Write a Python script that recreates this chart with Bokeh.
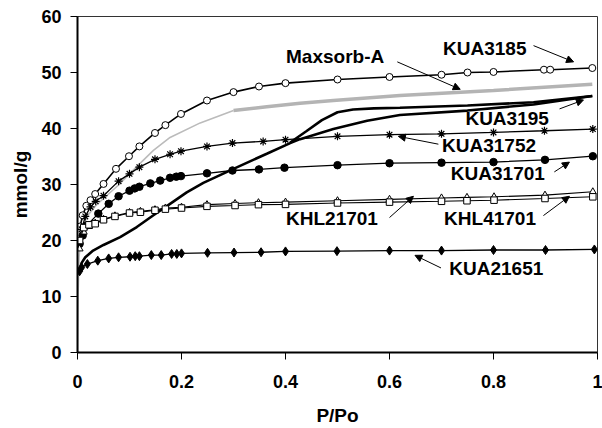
from bokeh.plotting import figure
from bokeh.models import Range1d, FixedTicker, Arrow, NormalHead, ColumnDataSource
from bokeh.core.properties import value
from bokeh.embed import file_html
from bokeh.resources import INLINE

# ---------------- data ----------------
kua3185_x = [0.005, 0.01, 0.017, 0.025, 0.034, 0.05, 0.074, 0.099, 0.119, 0.149, 0.169, 0.199,
             0.249, 0.3, 0.349, 0.4, 0.5, 0.6, 0.7, 0.75, 0.8, 0.897, 0.909, 0.99]
kua3185_y = [22.5, 24.5, 26.2, 27.2, 28.3, 30.1, 32.8, 35.05, 36.8, 39.2, 40.6, 42.6,
             45.0, 46.5, 47.5, 48.1, 48.75, 49.2, 49.6, 50.0, 50.1, 50.5, 50.5, 50.8]

maxsorb_x1 = [0.0, 0.001, 0.003, 0.006, 0.01, 0.02, 0.035, 0.05, 0.08, 0.114, 0.146, 0.178, 0.236, 0.3]
maxsorb_y1 = [0.0, 10.0, 17.0, 20.5, 22.5, 24.5, 26.2, 27.5, 30.0, 33.2, 36.1, 38.4, 41.0, 43.2]
maxsorb_x2 = [0.3, 0.364, 0.428, 0.492, 0.62, 0.8, 0.99]
maxsorb_y2 = [43.2, 43.9, 44.5, 45.0, 45.9, 46.8, 47.9]

kua31752_x = [0.003, 0.008, 0.015, 0.025, 0.035, 0.05, 0.079, 0.1, 0.119, 0.149, 0.178, 0.199,
              0.249, 0.298, 0.357, 0.4, 0.5, 0.6, 0.7, 0.8, 0.898, 0.991]
kua31752_y = [19.5, 22.0, 24.3, 26.0, 27.0, 28.0, 30.6, 31.9, 33.1, 34.5, 35.4, 35.95,
              36.8, 37.4, 37.7, 38.0, 38.6, 38.9, 39.05, 39.3, 39.6, 39.9]

kua31701_x = [0.004, 0.01, 0.018, 0.04, 0.06, 0.079, 0.1, 0.11, 0.119, 0.14, 0.159, 0.178, 0.19, 0.199,
              0.249, 0.298, 0.349, 0.398, 0.5, 0.6, 0.7, 0.8, 0.899, 0.991]
kua31701_y = [19.4, 20.9, 22.7, 24.8, 26.55, 27.9, 28.9, 29.3, 29.6, 30.2, 30.7, 31.2, 31.4, 31.5,
              32.0, 32.5, 32.7, 33.0, 33.45, 33.8, 33.9, 34.0, 34.4, 35.05]

khl21701_x = [0.004, 0.012, 0.022, 0.034, 0.05, 0.072, 0.1, 0.121, 0.149, 0.169, 0.2, 0.249,
              0.303, 0.348, 0.4, 0.5, 0.6, 0.7, 0.749, 0.801, 0.899, 0.991]
khl21701_y = [18.5, 21.5, 22.5, 23.1, 23.8, 24.4, 25.0, 25.2, 25.5, 25.8, 25.95, 26.4,
              26.6, 26.75, 26.85, 27.1, 27.35, 27.6, 27.7, 27.8, 28.1, 28.7]

khl41701_x = [0.004, 0.012, 0.022, 0.034, 0.05, 0.072, 0.1, 0.121, 0.149, 0.169, 0.2, 0.249,
              0.303, 0.348, 0.4, 0.5, 0.6, 0.7, 0.749, 0.801, 0.899, 0.991]
khl41701_y = [20.0, 22.3, 22.8, 23.0, 23.7, 24.3, 24.9, 25.05, 25.4, 25.6, 25.8, 26.1,
              26.25, 26.4, 26.45, 26.7, 26.85, 27.0, 27.1, 27.2, 27.5, 27.8]

kua21651_x = [0.004, 0.008, 0.019, 0.039, 0.06, 0.079, 0.101, 0.111, 0.119, 0.142, 0.161, 0.181, 0.191, 0.2,
              0.25, 0.301, 0.353, 0.4, 0.499, 0.6, 0.7, 0.8, 0.9, 0.994]
kua21651_y = [14.5, 15.2, 15.8, 16.4, 16.8, 17.0, 17.1, 17.2, 17.2, 17.4, 17.4, 17.6, 17.6, 17.7,
              17.8, 17.85, 17.9, 18.05, 18.1, 18.2, 18.2, 18.3, 18.3, 18.4]

kua3195_ads_x = [0.003, 0.008, 0.015, 0.03, 0.05, 0.082, 0.114, 0.146, 0.178, 0.21, 0.242, 0.3, 0.364,
                 0.409, 0.428, 0.492, 0.557, 0.62, 0.75, 0.877, 0.99]
kua3195_ads_y = [14.5, 16.0, 17.0, 18.2, 19.2, 20.6, 22.4, 24.5, 26.55, 28.6, 30.3, 32.8, 35.5,
                 37.4, 38.1, 39.9, 41.4, 42.4, 43.2, 44.3, 45.8]
kua3195_des_x = [0.409, 0.44, 0.47, 0.5, 0.53, 0.57, 0.62, 0.75, 0.877, 0.99]
kua3195_des_y = [37.5, 39.5, 41.5, 42.9, 43.4, 43.6, 43.7, 44.1, 44.7, 45.8]

x_ticks = [0, 0.2, 0.4, 0.6, 0.8, 1.0]
x_tick_labels = ["0", "0.2", "0.4", "0.6", "0.8", "1"]
y_ticks = [0, 10, 20, 30, 40, 50, 60]

label_text = ["Maxsorb-A", "KUA3185", "KUA3195", "KUA31752", "KUA31701", "KHL21701", "KHL41701", "KUA21651"]
label_x = [0.401, 0.703, 0.746, 0.701, 0.718, 0.401, 0.705, 0.715]
label_y = [52.8, 54.3, 41.8, 36.9, 32.0, 23.9, 23.9, 15.0]
arrow_x0 = [0.615, 0.877, 0.927, 0.694, 0.917, 0.600, 0.896, 0.699]
arrow_y0 = [51.9, 54.8, 43.5, 37.2, 32.25, 24.1, 24.45, 15.1]
arrow_x1 = [0.736, 0.954, 0.973, 0.617, 0.946, 0.646, 0.946, 0.649]
arrow_y1 = [47.0, 51.9, 45.1, 38.6, 34.0, 27.9, 27.9, 17.35]

x_title = "P/Po"
y_title = "mmol/g"

# ---------------- figure ----------------
FONT = "Liberation Sans"
p = figure(width=602, height=428, output_backend="svg", toolbar_location=None,
           x_range=Range1d(0, 1), y_range=Range1d(0, 60),
           min_border_left=77, min_border_right=5, min_border_top=16, min_border_bottom=76)
p.background_fill_color = "white"
p.border_fill_color = "white"
p.grid.visible = False
p.outline_line_color = "#333333"
p.outline_line_width = 1

for ax in (p.xaxis[0], p.yaxis[0]):
    ax.axis_line_width = 2
    ax.axis_line_color = "black"
    ax.major_tick_out = 7
    ax.major_tick_in = 0
    ax.major_tick_line_width = 1
    ax.minor_tick_out = 0
    ax.minor_tick_in = 0
    ax.major_label_text_font = FONT
    ax.major_label_text_font_style = "bold"
    ax.major_label_text_font_size = "18px"
    ax.major_label_text_color = "black"
    ax.axis_label_text_font = FONT
    ax.axis_label_text_font_style = "bold"
    ax.axis_label_text_font_size = "19px"
    ax.axis_label_text_color = "black"

p.xaxis.ticker = FixedTicker(ticks=x_ticks)
p.xaxis.major_label_overrides = {t: l for t, l in zip(x_ticks, x_tick_labels)}
p.yaxis.ticker = FixedTicker(ticks=y_ticks)
p.xaxis.axis_label = x_title
p.yaxis.axis_label = y_title
p.xaxis.major_label_standoff = 15
p.xaxis.axis_label_standoff = 14
p.yaxis.major_label_standoff = 9
p.yaxis.axis_label_standoff = 7

# Maxsorb-A (grey)
p.line(maxsorb_x1, maxsorb_y1, line_color="#bbbbbb", line_width=1.6)
p.line(maxsorb_x2, maxsorb_y2, line_color="#b4b4b4", line_width=3.5)

# KUA3195 thick lines (adsorption / desorption)
p.line(kua3195_ads_x, kua3195_ads_y, line_color="black", line_width=2.6)
p.line(kua3195_des_x, kua3195_des_y, line_color="black", line_width=2.6)

# KUA3185 open circles
p.line(kua3185_x, kua3185_y, line_color="black", line_width=1.6)
p.scatter(kua3185_x, kua3185_y, marker="circle", size=7, fill_color="white", line_color="black", line_width=1)

# KUA31752 stars
p.line(kua31752_x, kua31752_y, line_color="black", line_width=1.3)
p.scatter(kua31752_x, kua31752_y, marker="asterisk", size=8, line_color="black", line_width=1.2)

# KUA31701 filled circles
p.line(kua31701_x, kua31701_y, line_color="black", line_width=1.3)
p.scatter(kua31701_x, kua31701_y, marker="circle", size=7.5, fill_color="black", line_color="black")

# KHL21701 open triangles
p.line(khl21701_x, khl21701_y, line_color="black", line_width=1.1)
p.scatter(khl21701_x, khl21701_y, marker="triangle", size=7, fill_color="white", line_color="black", line_width=1)

# KHL41701 open squares
p.line(khl41701_x, khl41701_y, line_color="black", line_width=1.1)
p.scatter(khl41701_x, khl41701_y, marker="square", size=6.5, fill_color="white", line_color="black", line_width=1)

# KUA21651 filled diamonds
p.line(kua21651_x, kua21651_y, line_color="black", line_width=1.3)
p.scatter(kua21651_x, kua21651_y, marker="diamond", size=9, fill_color="black", line_color="black")

# labels
src = ColumnDataSource(dict(x=label_x, y=label_y, text=label_text))
p.text(x="x", y="y", text="text", source=src, text_font=value(FONT), text_font_style="bold",
       text_font_size="19px", text_align="left", text_baseline="middle", text_color="black")

for x0, y0, x1, y1 in zip(arrow_x0, arrow_y0, arrow_x1, arrow_y1):
    p.add_layout(Arrow(end=NormalHead(size=7, fill_color="black", line_color="black", line_width=1),
                       x_start=x0, y_start=y0, x_end=x1, y_end=y1,
                       line_color="black", line_width=1))

open("out.html", "w").write(file_html(p, INLINE))
